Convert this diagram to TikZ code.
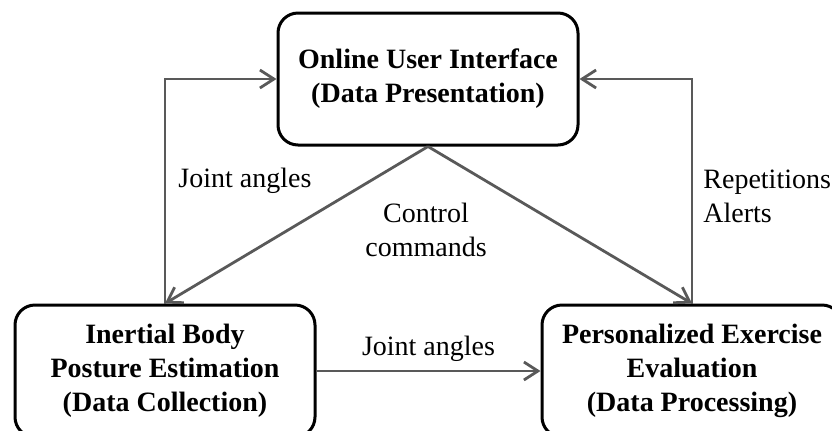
\documentclass[tikz,border=0pt]{standalone}
\usepackage{fontspec}
\setmainfont{Liberation Serif}
\usepackage{tikz}
\usetikzlibrary{arrows.meta}
\definecolor{arrowgray}{RGB}{89,89,89}

\begin{document}
\begin{tikzpicture}[x=0.5pt,y=-0.5pt,
 font=\fontsize{14}{17}\selectfont,
 block/.style={draw,line width=1.5pt,rounded corners=10pt,minimum width=150pt,minimum height=66pt,align=center,inner sep=0pt,font=\fontsize{14}{17}\selectfont\bfseries},
 flow/.style={draw=arrowgray,line width=1.4pt,-{Straight Barb[length=7pt,width=9pt]}}]
\useasboundingbox (0,0) rectangle (832,430);

\node[block] (ui) at (428,79) {Online User Interface\\(Data Presentation)};
\node[block] (ibpe) at (165,371) {Inertial Body\\Posture Estimation\\(Data Collection)};
\node[block] (pee) at (692,371) {Personalized Exercise\\Evaluation\\(Data Processing)};

\foreach \from/\side in {ibpe/west,pee/east}{
 \draw[flow] (\from.north) |- (ui.\side);
 \draw[flow] (ui.south) -- (\from.north);
 }
\draw[flow] (ibpe) -- node[midway,above=0.5pt] (ja2) {Joint angles} (pee);

\node[anchor=base west,inner sep=0pt] (ja1) at (178,187) {Joint angles};
\node[align=left,anchor=west,inner sep=0pt] (rep) at (703,196) {Repetitions\\Alerts};
\node[align=center] (cc) at (426,230) {Control\\commands};
\end{tikzpicture}
\end{document}
